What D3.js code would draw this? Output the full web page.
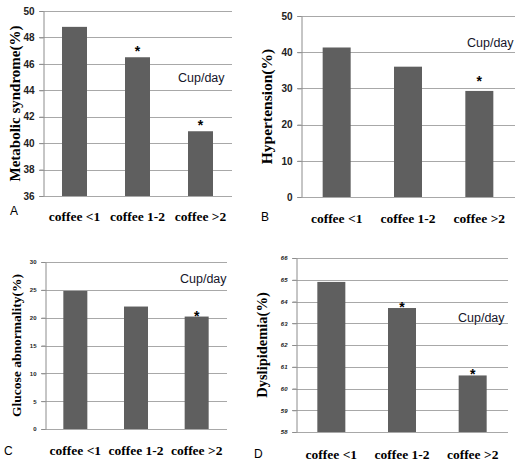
<!DOCTYPE html>
<html lang="en">
<head>
<meta charset="utf-8"/>
<title>Coffee intake and metabolic outcomes</title>
<script src="https://d3js.org/d3.v7.min.js"></script>
<style>
  body { margin: 0; background: #fff; }
  svg { display: block; }
  .grid line { stroke: #a8a8a8; stroke-width: 1px; }
  .yaxis path { stroke: #8c8c8c; }
  .yaxis line { stroke: #8c8c8c; }
  .bar { fill: #5f5f5f; }
  .xlabel { font-family: "Liberation Serif", serif; font-weight: bold; font-size: 13.5px; fill: #000; }
  .ytitle { font-family: "Liberation Serif", serif; font-weight: bold; fill: #000; }
  .cup { font-family: "Liberation Sans", sans-serif; font-size: 12.5px; fill: #14142a; }
  .panel-id { font-family: "Liberation Sans", sans-serif; font-size: 12px; fill: #000; }
  .star { font-family: "Liberation Sans", sans-serif; font-weight: bold; font-size: 14px; fill: #000; }
</style>
</head>
<body>
<div id="chart"></div>
<script>
// ---- data ----
var categories = ["coffee <1", "coffee 1-2", "coffee >2"];

var metabolicSyndrome = [48.8, 46.5, 40.9];
var hypertension      = [41.3, 36.0, 29.3];
var glucoseAbnormal   = [24.8, 22.0, 20.2];
var dyslipidemia      = [64.9, 63.7, 60.6];

// significance markers (*)
var starsA = [false, true, true];
var starsB = [false, false, true];
var starsC = [false, false, true];
var starsD = [false, true, true];

// y tick labels
var ticksA = [36, 38, 40, 42, 44, 46, 48, 50];
var ticksB = [0, 10, 20, 30, 40, 50];
var ticksC = [0, 5, 10, 15, 20, 25, 30];
var ticksD = [58, 59, 60, 61, 62, 63, 64, 65, 66];

var W = 515, H = 464;

var svg = d3.select("#chart").append("svg")
  .attr("width", W)
  .attr("height", H);

// panel layout (plot box in page pixels)
var panels = [
  { id: "A", title: "Metabolic syndrome(%)", values: metabolicSyndrome, stars: starsA, ticks: ticksA,
    left: 43, right: 232, top: 11, bottom: 196, barW: 25, tickFont: 10, tickStyle: "normal",
    titleX: 15, titleSize: 15, labelY: 221, idX: 10, idY: 215, cupX: 178, cupY: 82, starGap: 7 },
  { id: "B", title: "Hypertension(%)", values: hypertension, stars: starsB, ticks: ticksB,
    left: 301, right: 515, top: 16, bottom: 197, barW: 28, tickFont: 10, tickStyle: "normal",
    titleX: 267, titleSize: 15.5, labelY: 223, idX: 261, idY: 221, cupX: 467, cupY: 47, starGap: 11 },
  { id: "C", title: "Glucose abnormality(%)", values: glucoseAbnormal, stars: starsC, ticks: ticksC,
    left: 45, right: 227, top: 262, bottom: 429, barW: 24, tickFont: 6, tickStyle: "normal",
    titleX: 16, titleSize: 13.5, labelY: 455, idX: 4, idY: 455, cupX: 180, cupY: 283, starGap: 2 },
  { id: "D", title: "Dyslipidemia(%)", values: dyslipidemia, stars: starsD, ticks: ticksD,
    left: 296, right: 508, top: 258, bottom: 432, barW: 28, tickFont: 6, tickStyle: "italic",
    titleX: 262, titleSize: 14.5, labelY: 459, idX: 254, idY: 458, cupX: 458, cupY: 322, starGap: 2 }
];

panels.forEach(function(p) {
  var g = svg.append("g").attr("class", "panel-" + p.id);

  var x = d3.scaleBand()
    .domain(categories)
    .range([p.left, p.right])
    .padding(0);

  var y = d3.scaleLinear()
    .domain(d3.extent(p.ticks))
    .range([p.bottom, p.top]);

  // gridlines
  g.append("g")
    .attr("class", "grid")
    .selectAll("line")
    .data(p.ticks)
    .enter().append("line")
      .attr("x1", p.left - 4)
      .attr("x2", p.right)
      .attr("y1", function(d) { return Math.round(y(d)) + 0.5; })
      .attr("y2", function(d) { return Math.round(y(d)) + 0.5; });

  // y axis
  var yAxis = g.append("g")
    .attr("class", "yaxis")
    .attr("transform", "translate(" + (p.left + 0.5) + ",0)")
    .call(d3.axisLeft(y).tickValues(p.ticks).tickSize(4).tickSizeOuter(0).tickPadding(5));
  yAxis.selectAll("text")
    .style("font-family", "'Liberation Sans', sans-serif")
    .style("font-weight", "bold")
    .style("font-style", p.tickStyle)
    .style("font-size", p.tickFont + "px")
    .style("fill", "#222");

  // bars
  g.selectAll(".bar")
    .data(p.values)
    .enter().append("rect")
      .attr("class", "bar")
      .attr("x", function(d, i) { return x(categories[i]) + x.bandwidth() / 2 - p.barW / 2; })
      .attr("width", p.barW)
      .attr("y", function(d) { return y(d); })
      .attr("height", function(d) { return p.bottom - y(d); });

  // significance stars
  g.selectAll(".star")
    .data(p.values.map(function(v, i) { return { v: v, i: i, s: p.stars[i] }; })
                  .filter(function(d) { return d.s; }))
    .enter().append("text")
      .attr("class", "star")
      .attr("text-anchor", "middle")
      .attr("x", function(d) { return x(categories[d.i]) + x.bandwidth() / 2; })
      .attr("y", function(d) { return y(d.v) - p.starGap + 6; })
      .text("*");

  // category labels
  g.selectAll(".xlabel")
    .data(categories)
    .enter().append("text")
      .attr("class", "xlabel")
      .attr("text-anchor", "middle")
      .attr("x", function(d) { return x(d) + x.bandwidth() / 2; })
      .attr("y", p.labelY)
      .text(function(d) { return d; });

  // y title
  g.append("text")
    .attr("class", "ytitle")
    .attr("text-anchor", "middle")
    .attr("transform", "translate(" + p.titleX + "," + ((p.top + p.bottom) / 2) + ") rotate(-90)")
    .attr("dy", "0.35em")
    .style("font-size", p.titleSize + "px")
    .text(p.title);

  g.append("text")
    .attr("class", "cup")
    .attr("x", p.cupX)
    .attr("y", p.cupY)
    .text("Cup/day");

  g.append("text")
    .attr("class", "panel-id")
    .attr("x", p.idX)
    .attr("y", p.idY)
    .text(p.id);
});
</script>
</body>
</html>
